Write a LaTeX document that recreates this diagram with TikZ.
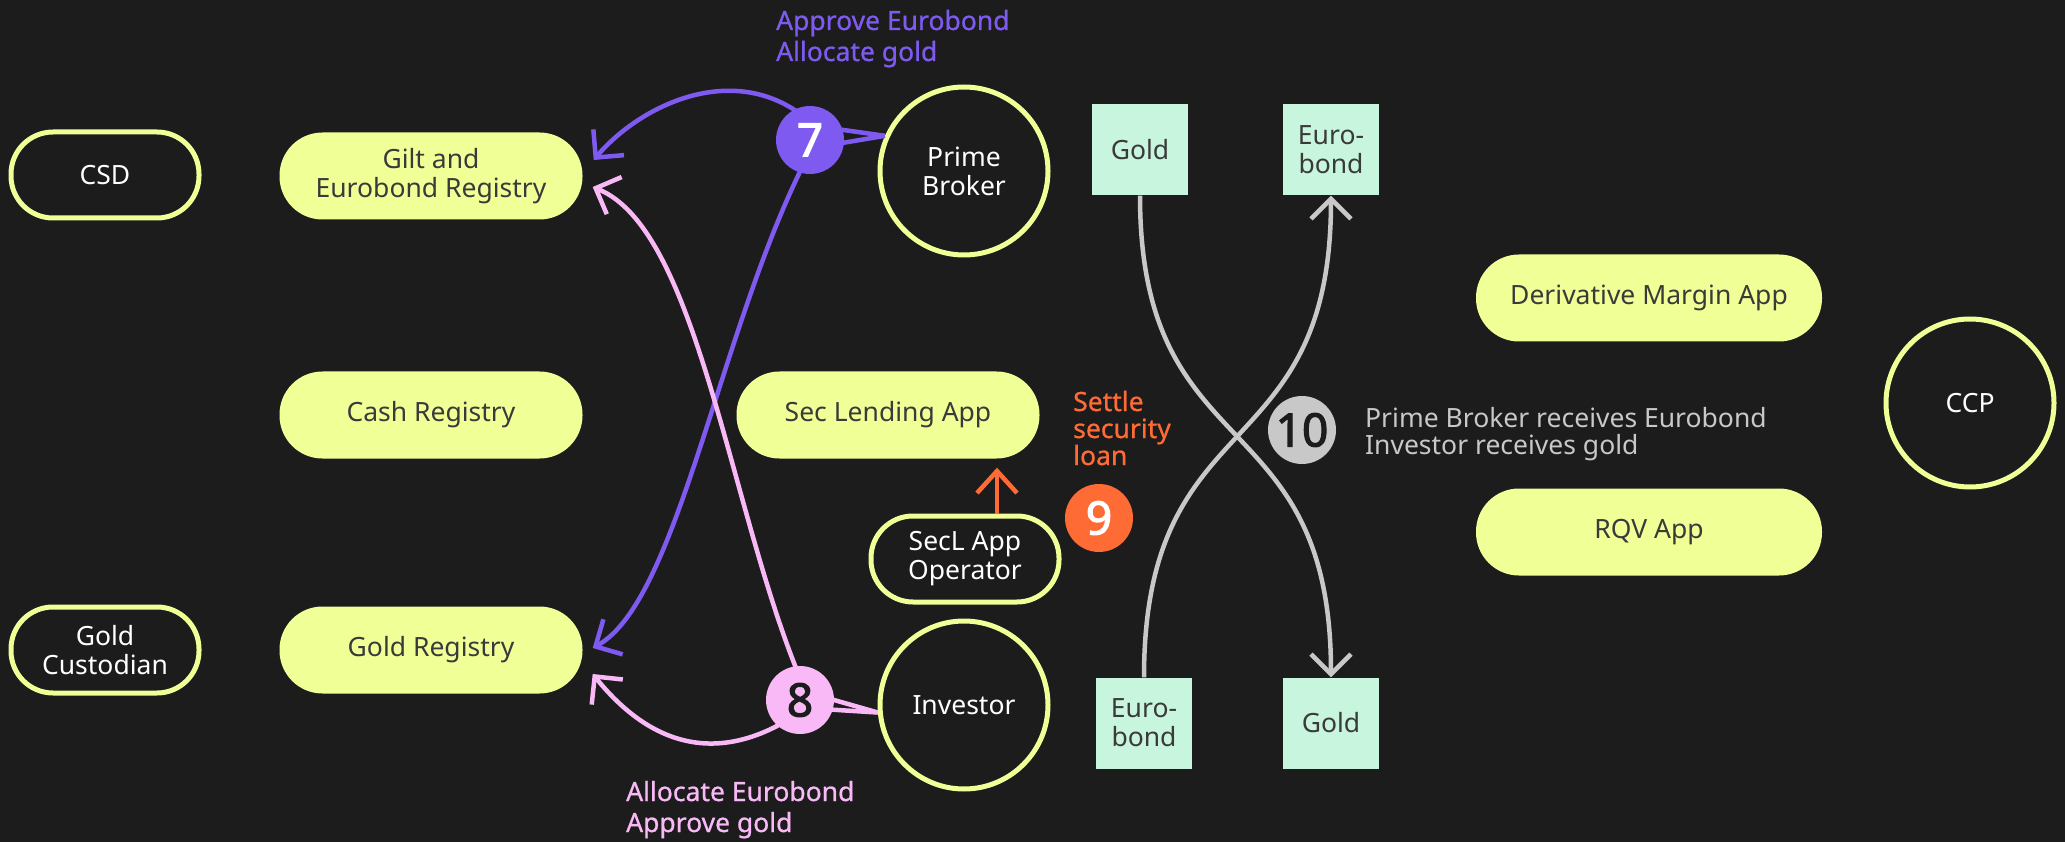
\documentclass[tikz,border=0pt]{standalone}
\usepackage{fontspec}
\setmainfont{Noto Sans}
\newfontfamily\badgefont{Noto Sans}[FakeBold=2.5]
\newfontfamily\notefont{Noto Sans}[FakeBold=0.8]
\usetikzlibrary{arrows.meta,calc}
\definecolor{bg}{HTML}{1C1C1C}
\definecolor{ylw}{HTML}{F0FF96}
\definecolor{mint}{HTML}{C8F5DE}
\definecolor{purp}{HTML}{7F5AF0}
\definecolor{pinkc}{HTML}{F9B9F6}
\definecolor{orng}{HTML}{FF6B35}
\definecolor{gry}{HTML}{C8C8C8}
\definecolor{ink}{HTML}{3A3A3A}
\begin{document}
\begin{tikzpicture}[x=1pt,y=-1pt,
  every node/.style={font=\fontsize{26.5}{29}\selectfont, inner sep=0pt},
  fillpill/.style={fill=ylw, rounded corners=43pt, minimum width=303pt, minimum height=87pt, text=ink, align=center},
  linepill/.style={draw=ylw, line width=5pt, fill=bg, rounded corners=42pt, minimum width=188pt, minimum height=86pt, text=white, align=center},
  ring/.style={circle, draw=ylw, line width=5pt, fill=bg, minimum size=168pt, text=white, align=center},
  asset/.style={fill=mint, minimum width=96pt, minimum height=91pt, text=ink, align=center},
  badge/.style={circle, minimum size=68pt, font=\fontsize{46}{46}\badgefont},
  flow/.style={line width=4.5pt, -{Straight Barb[length=20pt,width=40pt]}},
  note/.style={anchor=base west, align=left},
]
\fill[bg] (0,0) rectangle (2065,842);
\useasboundingbox (0,0) rectangle (2065,842);

% left column
\node[linepill] (csd) at (105,175) {CSD};
\node[linepill] (gcust) at (105,650) {Gold\\Custodian};
\node[fillpill] (gilt) at (431,176) {Gilt and\\Eurobond Registry};
\node[fillpill] (cash) at (431,415) {Cash Registry};
\node[fillpill] (goldreg) at (431,650) {Gold Registry};
\node[fillpill] (sla) at (888,415) {Sec Lending App};
\node[linepill] (op) at (965,559) {SecL App\\Operator};
\node[ring] (pb) at (964,171) {Prime\\Broker};
\node[ring] (inv) at (964,705) {Investor};

% assets
\node[asset] (goldT) at (1140,150) {Gold};
\node[asset] (euroT) at (1331,150) {Euro-\\bond};
\node[asset] (euroB) at (1144,723) {Euro-\\bond};
\node[asset] (goldB) at (1331,723) {Gold};

% right side
\node[fillpill, minimum width=346pt] (dma) at (1649,298) {Derivative Margin App};
\node[fillpill, minimum width=346pt] (rqv) at (1649,532) {RQV App};
\node[ring] (ccp) at (1970,403) {CCP};

% step 7 (purple)
\draw[flow, purp] (pb.156) -- (815,126) .. controls (740,55) and (640,105) .. ($(gilt.east)+(11,-16)$);
\draw[flow, purp] (pb.156) -- (812,148) .. controls (720,320) and (680,600) .. ($(goldreg.east)+(10,-2)$);
% step 8 (pink)
\draw[flow, pinkc] (inv.185) -- (806,692) .. controls (730,520) and (700,230) .. ($(gilt.east)+(10,11)$);
\draw[flow, pinkc] (inv.185) -- (806,708) .. controls (720,770) and (650,745) .. ($(goldreg.east)+(10,24)$);
% step 9 (orange)
\draw[line width=4.5pt, orng, -{Straight Barb[length=22pt,width=40pt]}] ($(op.north)+(32,0)$) -- ($(sla.south)+(109,9)$);
% step 10 (gray)
\draw[flow, gry] (goldT.south) .. controls +(0,275) and +(0,-278) .. (goldB.north);
\draw[flow, gry] (euroB.north) .. controls +(0,-278) and +(0,275) .. (euroT.south);

% badges
\node[badge, fill=purp, text=white] (b7) at (810,140) {7};
\node[badge, fill=pinkc, text=bg] (b8) at (800,700) {8};
\node[badge, fill=orng, text=white] (b9) at (1099,518) {9};
\node[badge, fill=gry, text=bg] (b10) at (1302,430) {10};

% annotations (base anchor = baseline of the last line)
\node[note, text=purp, font=\fontsize{26.5}{31}\notefont] (t7) at (776,61) {Approve Eurobond\\Allocate gold};
\node[note, text=pinkc, font=\fontsize{26.5}{31}\notefont] (t8) at (626,832) {Allocate Eurobond\\Approve gold};
\node[note, text=orng, font=\fontsize{26.5}{27}\notefont] (t9) at (1073,465) {Settle\\security\\loan};
\node[note, text=gry, font=\fontsize{26.5}{27}\selectfont] (t10) at (1365,454) {Prime Broker receives Eurobond\\Investor receives gold};
\end{tikzpicture}
\end{document}
